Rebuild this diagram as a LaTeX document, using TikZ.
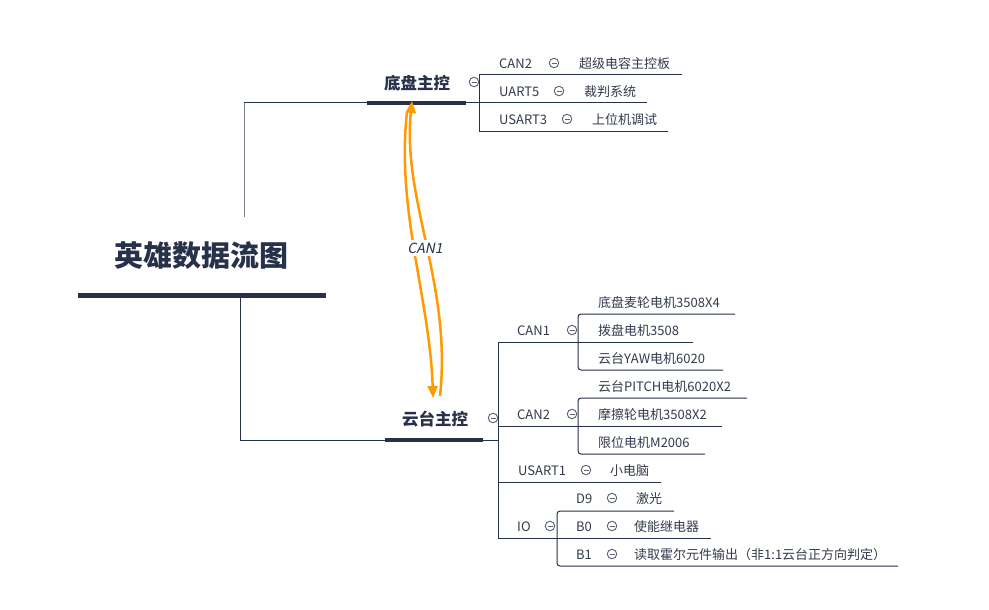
\documentclass[tikz,border=0pt]{standalone}
\usepackage{fontspec}
\setmainfont{Noto Sans CJK SC}
\newfontfamily\canfont[FakeSlant=0.2]{Noto Sans CJK SC}
\usetikzlibrary{arrows.meta}
\definecolor{navy}{HTML}{273149}
\definecolor{txt}{HTML}{333A4A}
\definecolor{tg}{HTML}{5A6170}
\definecolor{org}{HTML}{FF9A00}
\tikzset{
  lbl/.style={anchor=west, inner sep=0pt, text=txt, font=\fontsize{13}{15}\selectfont, text height=1.2em, text depth=0.12em},
  hub/.style={anchor=center, inner sep=0pt, text=navy, font=\fontsize{16.5}{18}\selectfont\bfseries, text height=1.36em, text depth=0.12em},
  tog/.style={circle, draw=tg, line width=0.9pt, minimum size=9.5pt, inner sep=0pt,
    path picture={\draw[tg, line width=0.9pt] ([xshift=-2.5pt]path picture bounding box.center) -- ([xshift=2.5pt]path picture bounding box.center);}},
  thin/.style={draw=navy, line width=1pt},
  thick/.style={draw=navy, line width=4pt},
  rb/.style={thin, rounded corners=3pt},
  flow/.style={draw=org, line width=2.5pt, -{Triangle[width=10pt,length=12pt]}}
}
\begin{document}
\begin{tikzpicture}[x=1pt,y=-1pt]
\useasboundingbox (0,0) rectangle (989,610);
% title
\node[anchor=center, inner sep=0pt, text=navy, font=\fontsize{29}{32}\selectfont\bfseries, text height=1.36em, text depth=0.12em] (title) at (201,260) {英雄数据流图};
\draw[navy, line width=5pt] (78,295) -- (326,295);

% chassis hub
\node[hub] (dp) at (417,83) {底盘主控};
\node[tog] (dpt) at (474,82) {};
\draw[draw=navy!60, line width=1pt] (244,217) -- (244,103);
\draw[thin] (244,103) -- (367,103);
\draw[thick] (367,103) -- (466,103);
\draw[thin] (466,103) -- (647,103);
\draw[thin] (682,75) -- (479,75) -- (479,131) -- (668,131);

\node[lbl] (can2a) at (499,63) {CAN2};
\node[tog] (can2at) at (554,63) {};
\node[lbl] (scap) at (579,63) {超级电容主控板};
\node[lbl] (uart5) at (499,91) {UART5};
\node[tog] (uart5t) at (559,91) {};
\node[lbl] (ref) at (584,91) {裁判系统};
\node[lbl] (usart3) at (499,119) {USART3};
\node[tog] (usart3t) at (567,119) {};
\node[lbl] (pc) at (592,119) {上位机调试};

% gimbal hub
\node[hub] (yt) at (435,419) {云台主控};
\node[tog] (ytt) at (493,418) {};
\draw[thin] (240,295) -- (240,440) -- (385,440);
\draw[thick] (385,440) -- (483,440);
\draw[thin] (483,440) -- (498,440);
\draw[thin] (498,342) -- (498,538);
\draw[thin] (498,342) -- (693,342);
\draw[thin] (498,426) -- (722,426);
\draw[thin] (498,482) -- (661,482);
\draw[thin] (498,538) -- (711,538);
\draw[rb] (735,314) -- (578,314) -- (578,370) -- (723,370);
\draw[rb] (747,398) -- (578,398) -- (578,454) -- (705,454);
\draw[rb] (674,511) -- (557,511) -- (557,566) -- (898,566);

\node[lbl] (can1) at (517,330) {CAN1};
\node[tog] (can1t) at (572,330) {};
\node[lbl] (m1) at (598,302) {底盘麦轮电机3508X4};
\node[lbl] (m2) at (598,330) {拨盘电机3508};
\node[lbl] (m3) at (598,358) {云台YAW电机6020};

\node[lbl] (can2) at (517,414) {CAN2};
\node[tog] (can2t) at (572,414) {};
\node[lbl] (m4) at (598,386) {云台PITCH电机6020X2};
\node[lbl] (m5) at (598,414) {摩擦轮电机3508X2};
\node[lbl] (m6) at (598,442) {限位电机M2006};

\node[lbl] (usart1) at (518,470) {USART1};
\node[tog] (usart1t) at (586,470) {};
\node[lbl] (nuc) at (610,470) {小电脑};

\node[lbl] (io) at (517,526) {IO};
\node[tog] (iot) at (550,526) {};
\node[lbl] (d9) at (576,498) {D9};
\node[tog] (d9t) at (612,498) {};
\node[lbl] (laser) at (636,498) {激光};
\node[lbl] (b0) at (576,526) {B0};
\node[tog] (b0t) at (612,526) {};
\node[lbl] (relay) at (634,526) {使能继电器};
\node[lbl] (b1) at (576,554) {B1};
\node[tog] (b1t) at (612,554) {};
\node[lbl] (hall) at (634,554) {读取霍尔元件输出（非1:1云台正方向判定）};

% CAN1 link
\coordinate (dpIn) at (412,101);
\coordinate (dpOut) at (407,112);
\coordinate (ytIn) at (433,398);
\coordinate (ytOut) at (440,396);
\draw[flow] (dpOut) .. controls (396,210) and (430,300) .. (ytIn);
\draw[flow] (ytOut) .. controls (452,285) and (402,200) .. (dpIn);
\node[fill=white, inner sep=1pt, text=navy, font=\fontsize{14}{16}\selectfont\canfont, text height=1.2em, text depth=0.12em] (canlbl) at (425,248) {CAN1};
\end{tikzpicture}
\end{document}
